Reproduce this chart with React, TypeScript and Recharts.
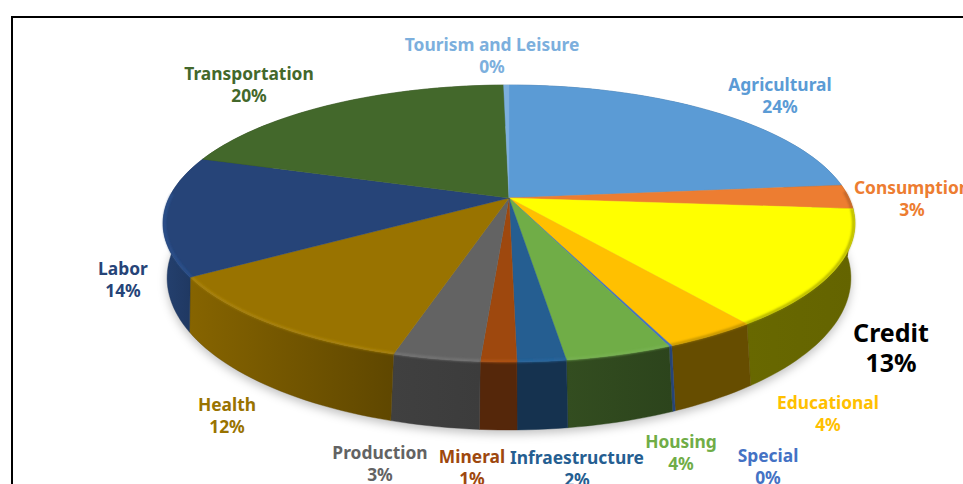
import React from 'react';
import { PieChart, Pie } from 'recharts';

const names = ['Agricultural','Consumption','Credit','Educational','Special','Housing','Infraestructure','Mineral','Production','Health','Labor','Transportation','Tourism and Leisure'];
const values = [23.4,2.8,13.55,3.65,0.12,4.18,1.9,1.4,3.4,11.5,13.9,19.7,0.3];
const percents = ['24%','3%','13%','4%','0%','4%','2%','1%','3%','12%','14%','20%','0%'];
const fills = ['#5b9bd5','#ed7d31','#ffff00','#ffc000','#4472c4','#70ad47','#255e91','#9e480e','#636363','#997300','#264478','#43682b','#7cafdd'];
const wallStart = ['#3a6a96','#8e4b1d','#686800','#664d00','#264478','#334d20','#15324f','#55270a','#404040','#866400','#24406f','#2b431b','#4a6985'];
const wallEnd = ['#3a6a96','#8e4b1d','#646400','#664d00','#264478','#2c441c','#15324f','#55270a','#3c3c3c','#5f4700','#1c3358','#2b431b','#4a6985'];
const bevels = ['#5b9bd5','#a85a24','#8f8f00','#a88200','#4472c4','#7bb555','#2a6aa3','#b5581a','#7c7c7c','#b08a10','#2f5596','#43682b','#7cafdd'];
const labelColors = ['#5b9bd5','#ed7d31','#000000','#ffc000','#4472c4','#70ad47','#255e91','#9e480e','#636363','#997300','#264478','#43682b','#7cafdd'];
const labelX = [780,912,891,828,768,681,577,472,380,227,123,249,492];
const labelY = [84,187,332,402,455,441,457,456,452,404,268,73,44];

const data = names.map((name, i) => ({ name, value: values[i] }));
const whole = [{ name: 'all', value: 1 }];

const W = 963, H = 484, CX = 509, CY = 198, R = 340;
const TOP = { a: 1, b: 0.3935, p: 0.184, dy: 0 };
const BOTTOM = { a: 0.981, b: 0.4253, p: 0.22, dy: 46.6 };
type Geo = typeof TOP;

function pt(g: Geo, cx: number, cy: number, r: number, deg: number, k = 1) {
  const rad = (deg * Math.PI) / 180;
  const t = -Math.sin(rad);
  const d = 1 - g.p * t;
  return [cx + (k * r * g.a * Math.cos(rad)) / d, cy + g.dy + (k * r * g.b * t) / d, t];
}
function arc(g: Geo, cx: number, cy: number, r: number, a0: number, a1: number, k = 1) {
  const n = Math.max(2, Math.ceil(Math.abs(a1 - a0) / 1.5));
  const out: number[][] = [];
  for (let i = 0; i <= n; i++) out.push(pt(g, cx, cy, r, a0 + ((a1 - a0) * i) / n, k));
  return out;
}
const toD = (pts: number[][]) => pts.map((p, i) => `${i ? 'L' : 'M'}${p[0].toFixed(2)} ${p[1].toFixed(2)}`).join(' ');

function ShadowShape(props: any) {
  const { cx, cy, outerRadius: r } = props;
  const pts = arc(BOTTOM, cx, cy + 4, r, 0, 360);
  return (
    <g>
      <defs>
        <filter id="soft" filterUnits="userSpaceOnUse" x="0" y="0" width={W} height={H}>
          <feGaussianBlur stdDeviation="5" />
        </filter>
        <filter id="bevelBlur" filterUnits="userSpaceOnUse" x="0" y="0" width={W} height={H}>
          <feGaussianBlur stdDeviation="1.1" />
        </filter>
      </defs>
      <path d={toD(pts) + 'Z'} fill="#000" fillOpacity={0.24} filter="url(#soft)" />
    </g>
  );
}

function WallShape(props: any) {
  const { cx, cy, outerRadius: r, startAngle, endAngle, index } = props;
  const top = arc(TOP, cx, cy, r, startAngle, endAngle);
  const bot = arc(BOTTOM, cx, cy, r, startAngle, endAngle).reverse();
  const id = `wall-${index}`;
  return (
    <g>
      <defs>
        <linearGradient id={id} x1="0" y1="0" x2="1" y2="0">
          <stop offset="0" stopColor={wallStart[index]} />
          <stop offset="1" stopColor={wallEnd[index]} />
        </linearGradient>
      </defs>
      <path d={toD([...top, ...bot]) + 'Z'} fill={`url(#${id})`} stroke={wallEnd[index]} strokeWidth={0.4} />
    </g>
  );
}

function TopShape(props: any) {
  const { cx, cy, outerRadius: r, startAngle, endAngle, index } = props;
  const rim = arc(TOP, cx, cy, r, startAngle, endAngle);
  const band = arc(TOP, cx, cy, r, startAngle, endAngle, 0.996).filter((p) => p[2] > -0.05);
  return (
    <g>
      <path d={`M${cx} ${cy} ` + toD(rim).replace('M', 'L') + 'Z'} fill={fills[index]} stroke={fills[index]} strokeWidth={0.4} />
      {band.length > 1 && (
        <path d={toD(band)} fill="none" stroke={bevels[index]} strokeOpacity={0.75} strokeWidth={2.4} filter="url(#bevelBlur)" />
      )}
    </g>
  );
}

function renderLabel(props: any) {
  const i = props.index;
  const big = names[i] === 'Credit';
  const size = big ? 25 : 17.4;
  const gap = big ? 30 : 22;
  return (
    <text key={i} fontFamily="'Noto Sans'" fontWeight={700} fontSize={size} fill={labelColors[i]} textAnchor="middle">
      <tspan x={labelX[i]} y={labelY[i]} dominantBaseline="central">{names[i]}</tspan>
      <tspan x={labelX[i]} y={labelY[i] + gap} dominantBaseline="central">{percents[i]}</tspan>
    </text>
  );
}

export default function App() {
  return (
    <div style={{ position: 'absolute', left: 0, top: 0, width: W, height: H, overflow: 'hidden', background: '#fff' }}>
      <div style={{ position: 'absolute', left: 11, top: 16, width: W, height: H, borderLeft: '2px solid #000', borderTop: '2px solid #000' }} />
      <div style={{ position: 'absolute', left: 0, top: 0 }}>
        <PieChart width={W} height={H} margin={{ top: 0, right: 0, bottom: 0, left: 0 }}>
          <Pie data={whole} dataKey="value" cx={CX} cy={CY} outerRadius={R} startAngle={90} endAngle={-270} stroke="none" isAnimationActive={false} shape={ShadowShape} />
          <Pie data={data} dataKey="value" nameKey="name" cx={CX} cy={CY} outerRadius={R} startAngle={90} endAngle={-270} paddingAngle={0} stroke="none" isAnimationActive={false} shape={WallShape} />
          <Pie data={data} dataKey="value" nameKey="name" cx={CX} cy={CY} outerRadius={R} startAngle={90} endAngle={-270} paddingAngle={0} stroke="none" isAnimationActive={false} shape={TopShape} label={renderLabel} labelLine={false} />
        </PieChart>
      </div>
    </div>
  );
}
